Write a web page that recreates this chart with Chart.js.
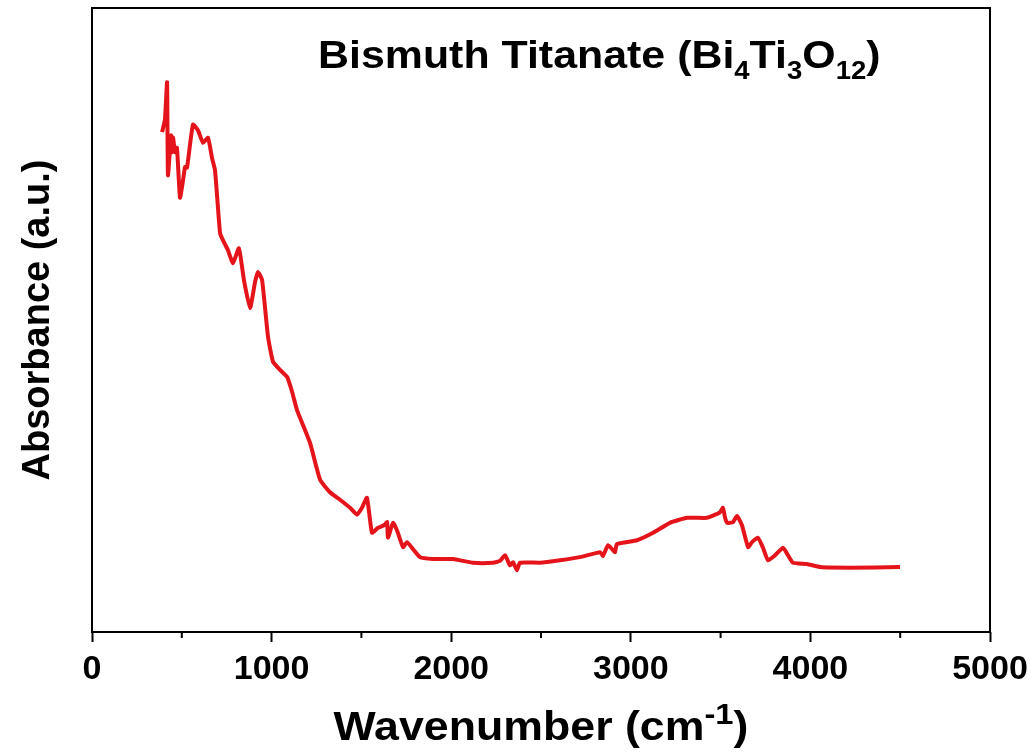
<!DOCTYPE html>
<html>
<head>
<meta charset="utf-8">
<script src="https://cdn.jsdelivr.net/npm/chart.js@4"></script>
<style>
  body { margin: 0; background: #fff; }
  #wrap { width: 1035px; height: 755px; position: relative; }
</style>
</head>
<body>
<div id="wrap"><canvas id="myChart"></canvas></div>
<script>
// FTIR spectrum (absorbance in arbitrary units)
const wavenumber = [390, 406, 418, 423, 440, 445, 451, 462, 473, 490, 507, 518, 529, 562, 590, 618, 646, 668, 685,
  713, 729, 757, 785, 818, 846, 880, 908, 924, 947, 980, 1008, 1047, 1086, 1114, 1141, 1214, 1270, 1325, 1381,
  1437, 1476, 1503, 1531, 1559, 1592, 1626, 1643, 1648, 1676, 1698, 1732, 1754, 1826, 1899, 2010, 2121, 2233,
  2272, 2300, 2327, 2344, 2366, 2383, 2494, 2606, 2717, 2829, 2845, 2873, 2901, 2912, 2923, 3035, 3124, 3218,
  3313, 3424, 3469, 3497, 3513, 3525, 3536, 3569, 3591, 3619, 3653, 3675, 3708, 3736, 3764, 3803, 3848, 3875,
  3903, 3981, 4054, 4221, 4499]
const absorbance = [0.801, 0.821, 0.881, 0.732, 0.796, 0.769, 0.793, 0.769, 0.776, 0.696, 0.724, 0.745, 0.744,
  0.813, 0.804, 0.784, 0.792, 0.760, 0.740, 0.639, 0.628, 0.612, 0.591, 0.615, 0.564, 0.519, 0.561, 0.577, 0.564,
  0.473, 0.433, 0.420, 0.409, 0.385, 0.356, 0.303, 0.244, 0.224, 0.212, 0.199, 0.188, 0.199, 0.215, 0.159, 0.167,
  0.171, 0.176, 0.151, 0.175, 0.163, 0.136, 0.144, 0.120, 0.117, 0.117, 0.111, 0.111, 0.114, 0.123, 0.107, 0.112,
  0.099, 0.111, 0.111, 0.115, 0.120, 0.128, 0.122, 0.139, 0.131, 0.128, 0.141, 0.147, 0.159, 0.175, 0.183, 0.183,
  0.188, 0.192, 0.199, 0.183, 0.175, 0.176, 0.186, 0.171, 0.136, 0.144, 0.151, 0.135, 0.115, 0.123, 0.135, 0.123,
  0.111, 0.109, 0.104, 0.103, 0.104]
const xTicks = [0, 1000, 2000, 3000, 4000, 5000]
const minorTicks = [500, 1500, 2500, 3500, 4500]

const FONT = 'Liberation Sans, Arial, sans-serif'

// draws a run of [text, font, dy] pieces, stretched sideways by sx
function drawRuns(ctx, runs, x, y, sx, centered) {
    ctx.save()
    let w = 0
    runs.forEach(p => { ctx.font = p[1]; w += ctx.measureText(p[0]).width })
    ctx.translate(centered ? x - w * sx / 2 : x, y)
    ctx.scale(sx, 1)
    let cx = 0
    runs.forEach(p => {
        ctx.font = p[1]
        ctx.fillText(p[0], cx, p[2])
        cx += ctx.measureText(p[0]).width
    })
    ctx.restore()
}

// frame, minor ticks and the titles with sub/superscripts
const extras = {
    id: 'extras',
    afterDraw(chart) {
        const ctx = chart.ctx
        const a = chart.chartArea
        const xs = chart.scales.x
        ctx.save()
        ctx.strokeStyle = '#000'
        ctx.lineWidth = 2
        ctx.strokeRect(a.left, a.top, a.right - a.left, a.bottom - a.top)
        ctx.beginPath()
        minorTicks.forEach(v => {
            const px = xs.getPixelForValue(v)
            ctx.moveTo(px, a.bottom)
            ctx.lineTo(px, a.bottom + 6)
        })
        ctx.stroke()

        ctx.fillStyle = '#000'
        ctx.textBaseline = 'alphabetic'
        ctx.textAlign = 'left'

        const big = 'bold 39px ' + FONT
        const sub = 'bold 25px ' + FONT
        drawRuns(ctx, [
            ['Bismuth Titanate (Bi', big, 0],
            ['4', sub, 11],
            ['Ti', big, 0],
            ['3', sub, 11],
            ['O', big, 0],
            ['12', sub, 11],
            [')', big, 0]
        ], 318, 68, 1.1, false)

        drawRuns(ctx, [
            ['Wavenumber (cm', 'bold 41px ' + FONT, 0],
            ['-1', 'bold 30px ' + FONT, -16],
            [')', 'bold 41px ' + FONT, 0]
        ], (a.left + a.right) / 2, 740, 1.09, true)

        // y title
        ctx.translate(49, (a.top + a.bottom) / 2)
        ctx.rotate(-Math.PI / 2)
        ctx.textAlign = 'center'
        ctx.font = 'bold 38px ' + FONT
        ctx.fillText('Absorbance (a.u.)', 0, 0)
        ctx.restore()
    }
}

const ctx = document.getElementById('myChart').getContext('2d')
const data = {
    datasets: [{
        label: 'Bi4Ti3O12',
        data: wavenumber.map((v, i) => ({ x: v, y: absorbance[i] })),
        borderColor: '#e5141a',
        borderWidth: 4,
        pointRadius: 0,
        tension: 0.15,
        fill: false
    }]
}

const myChart = new Chart(ctx, {
    type: 'line',
    data: data,
    plugins: [extras],
    options: {
        responsive: true,
        maintainAspectRatio: false,
        animation: false,
        layout: { padding: { top: 8, right: 45, left: 0, bottom: 0 } },
        plugins: { legend: { display: false }, tooltip: { enabled: false } },
        scales: {
            x: {
                type: 'linear',
                min: 0,
                max: 5000,
                afterBuildTicks: s => { s.ticks = xTicks.map(v => ({ value: v })) },
                afterFit: s => { s.height = 123 },
                grid: { drawOnChartArea: false, tickLength: 10, tickWidth: 2, tickColor: '#000' },
                border: { display: false },
                ticks: {
                    color: '#000',
                    padding: 7,
                    maxRotation: 0,
                    font: { family: FONT, size: 34, weight: 'bold' },
                    callback: v => v
                }
            },
            y: {
                min: 0,
                max: 1,
                afterFit: s => { s.width = 92 },
                grid: { display: false },
                border: { display: false },
                ticks: { display: false }
            }
        }
    }
})
</script>
</body>
</html>
